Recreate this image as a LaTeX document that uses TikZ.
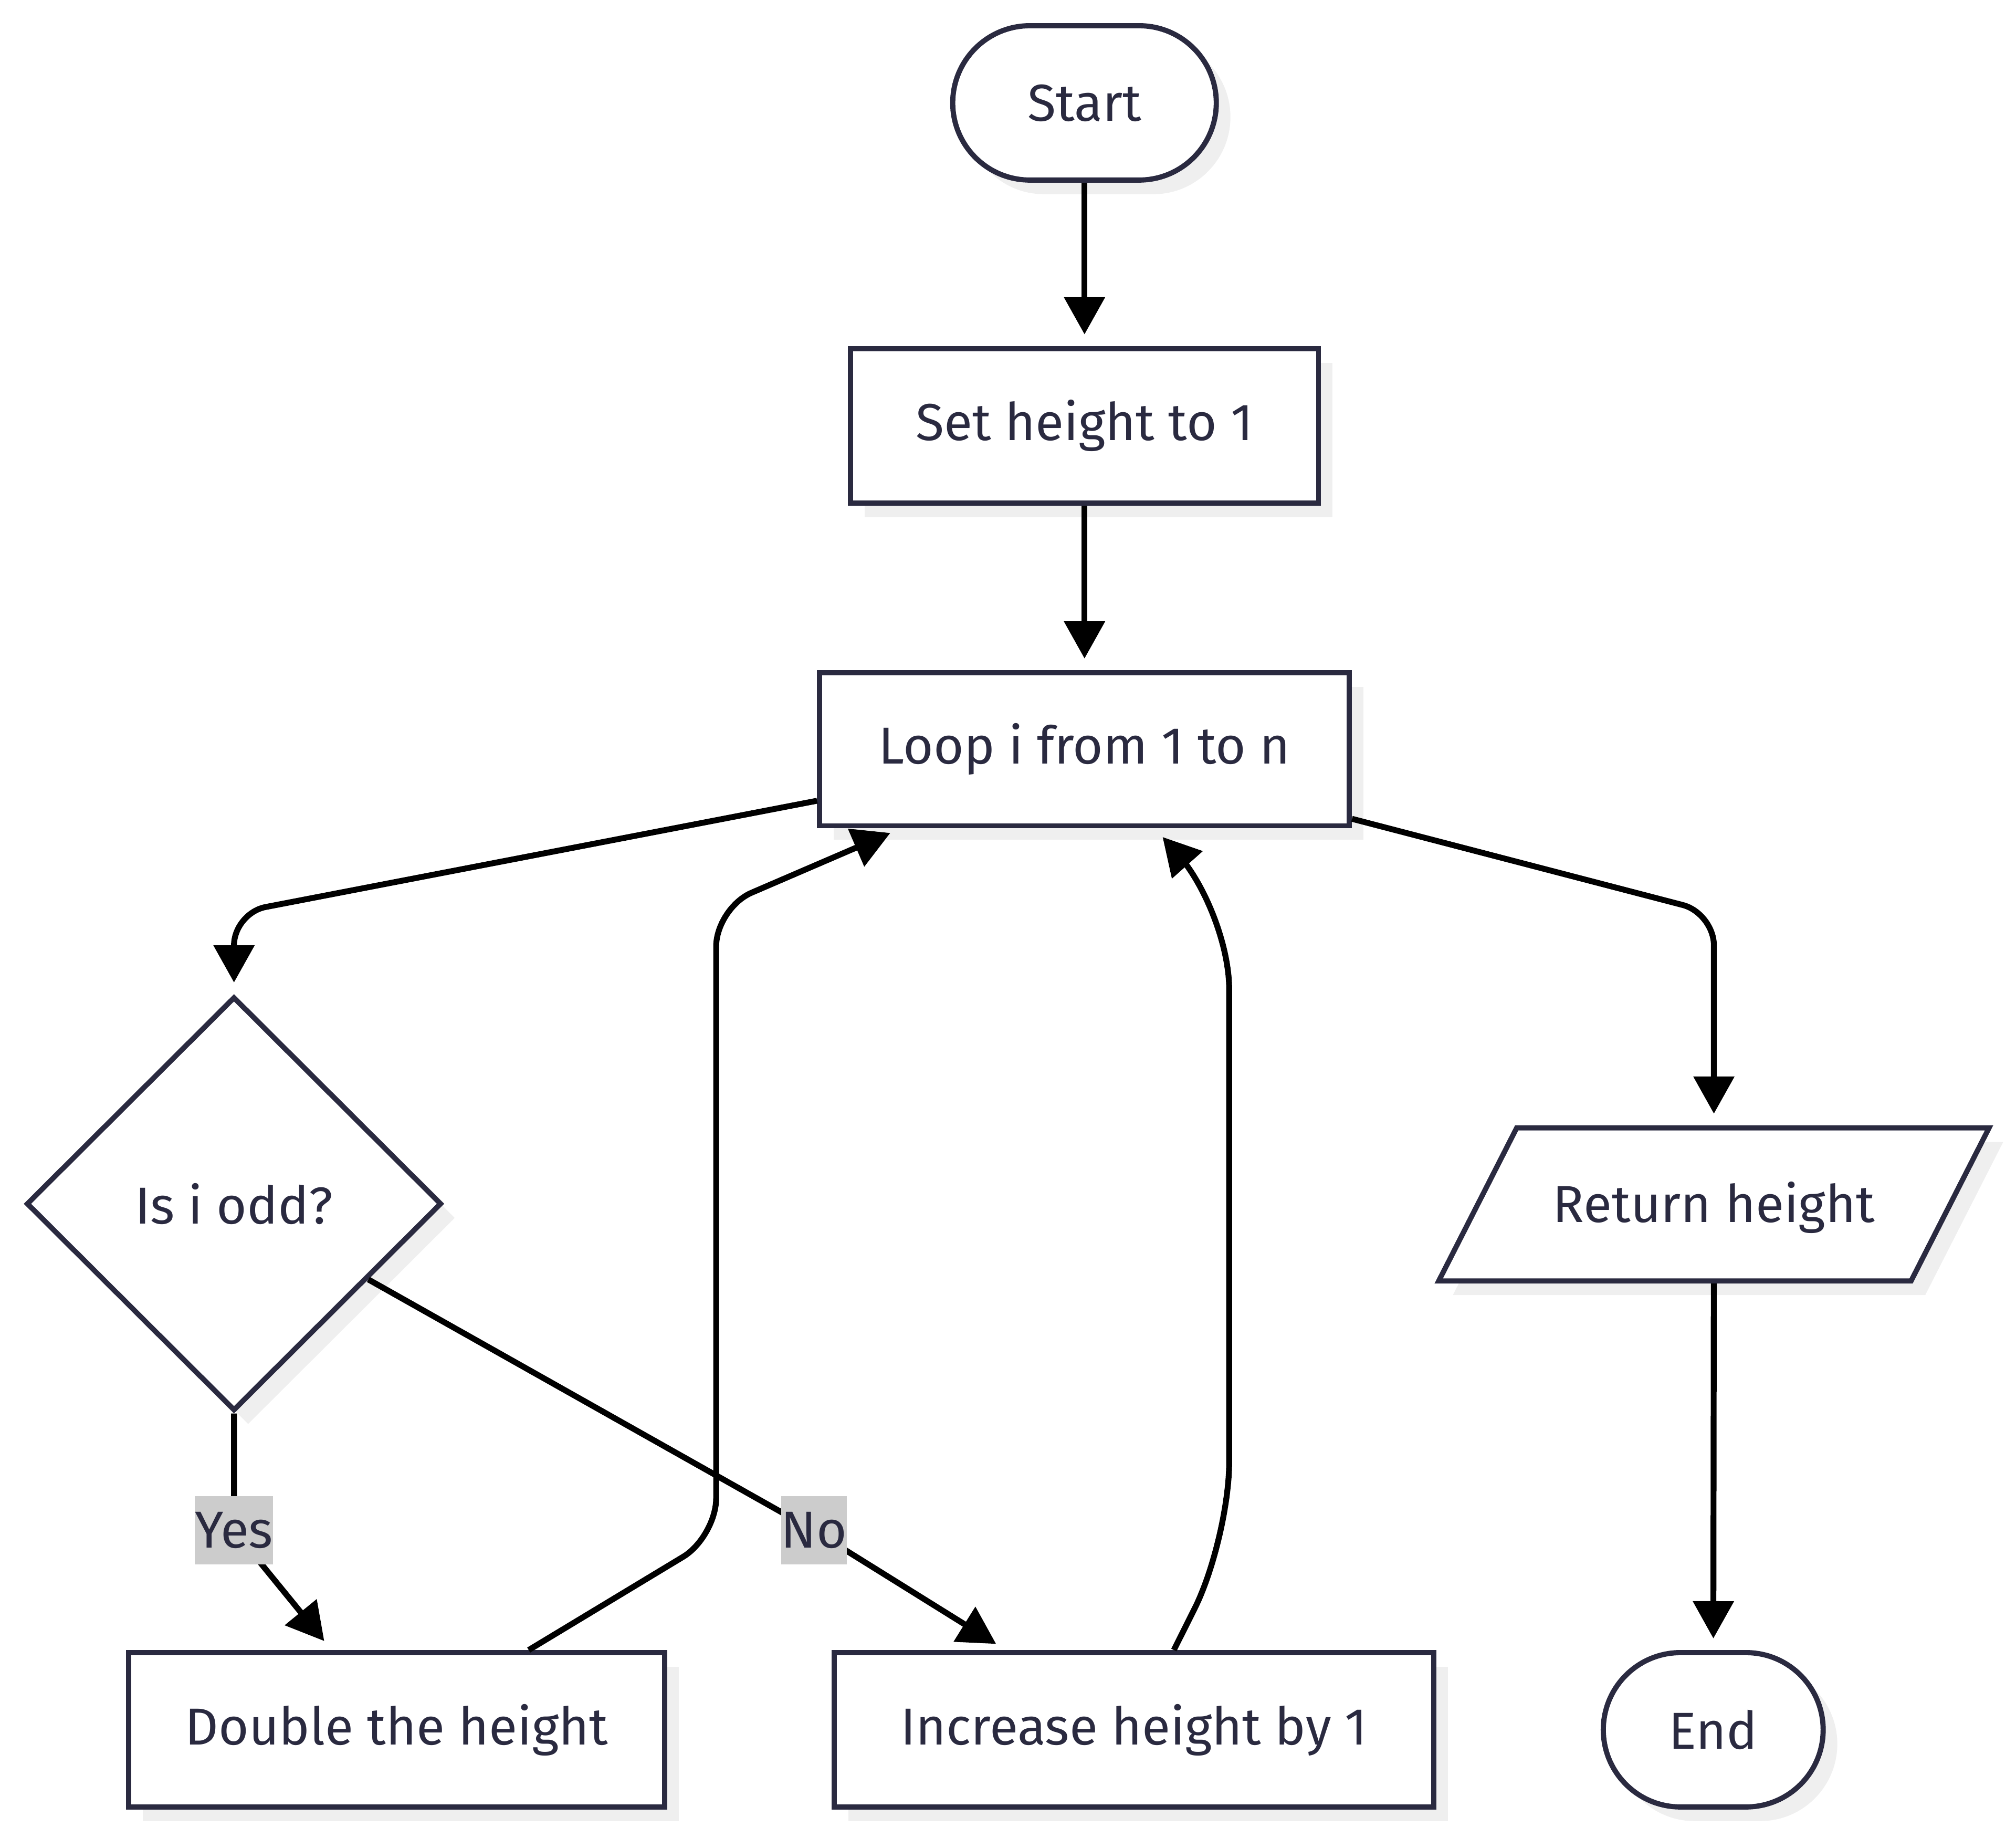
\documentclass[tikz,border=0pt]{standalone}
\usepackage{fontspec}
\setmainfont{Fira Sans}
\usepackage{tikz}
\usetikzlibrary{positioning,arrows.meta,shapes.geometric,shadows}
\definecolor{ink}{HTML}{2A2A40}
\definecolor{shade}{HTML}{EFEFEF}
\definecolor{tagfill}{HTML}{CCCCCC}

\begin{document}
\begin{tikzpicture}[
    >={Triangle[length=0.29cm,width=0.31cm]},
    font=\fontsize{11.5}{13}\selectfont,
    base/.style={draw=ink, text=ink, line width=1.15pt, fill=white,
        drop shadow={shadow xshift=0.11cm, shadow yshift=-0.11cm, fill=shade, opacity=1}},
    process/.style={base, rectangle, minimum height=1.2cm},
    terminal/.style={base, rectangle, rounded corners=0.6cm, minimum height=1.2cm},
    decision/.style={base, diamond, minimum width=3.23cm, minimum height=3.22cm, inner sep=0pt},
    io/.style={base, trapezium, trapezium left angle=63, trapezium right angle=117,
        trapezium stretches body, text height=0.28cm, text depth=0cm, inner ysep=0.455cm,
        minimum width=4.28cm},
    flow/.style={->, draw=black, line width=1.3pt, shorten >=0.09cm},
    tag/.style={fill=tagfill, text=ink, inner xsep=0pt, minimum height=0.53cm}
]
    \useasboundingbox (0,0) rectangle (15.68,-14.29);

    \node[terminal, minimum width=2.05cm] (start) at (8.435,-0.80) {Start};
    \node[process, minimum width=3.64cm, below=1.27cm of start] (setheight) {Set height to 1};
    \node[process, minimum width=4.12cm, minimum height=1.19cm, below=1.28cm of setheight] (loop) {Loop i from 1 to n};
    \node[decision] (odd) at (1.82,-9.36) {Is i odd?};
    \node[io] (ret) at (13.33,-9.365) {Return height};
    \node[process, minimum width=4.17cm] (double) at (3.085,-13.45) {Double the height};
    \node[process, minimum width=4.66cm] (increase) at (8.82,-13.45) {Increase height by 1};
    \node[terminal, minimum width=1.71cm] (done) at (13.325,-13.45) {End};

    \draw[flow] (start) -- (setheight);
    \draw[flow] (setheight) -- (loop);
    \draw[flow, rounded corners=0.25cm] (loop) -- (1.82,-7.10) -- (odd);
    \draw[flow, rounded corners=0.25cm] (loop) -- (13.33,-7.10) -- (ret);
    \draw[flow] (odd) -- (1.82,-11.90) node[tag] {Yes} -- (double);
    \draw[flow] (odd) -- (6.33,-11.90) node[tag] {No} -- (increase);
    \draw[flow, rounded corners=0.3cm] (double) -- (5.57,-11.95) -- (5.57,-7.06) -- (loop);
    \draw[flow, rounded corners=0.6cm] (increase) -- (9.56,-11.97) -- (9.56,-7.09) -- (loop);
    \draw[flow] (ret) -- (done);
\end{tikzpicture}
\end{document}
